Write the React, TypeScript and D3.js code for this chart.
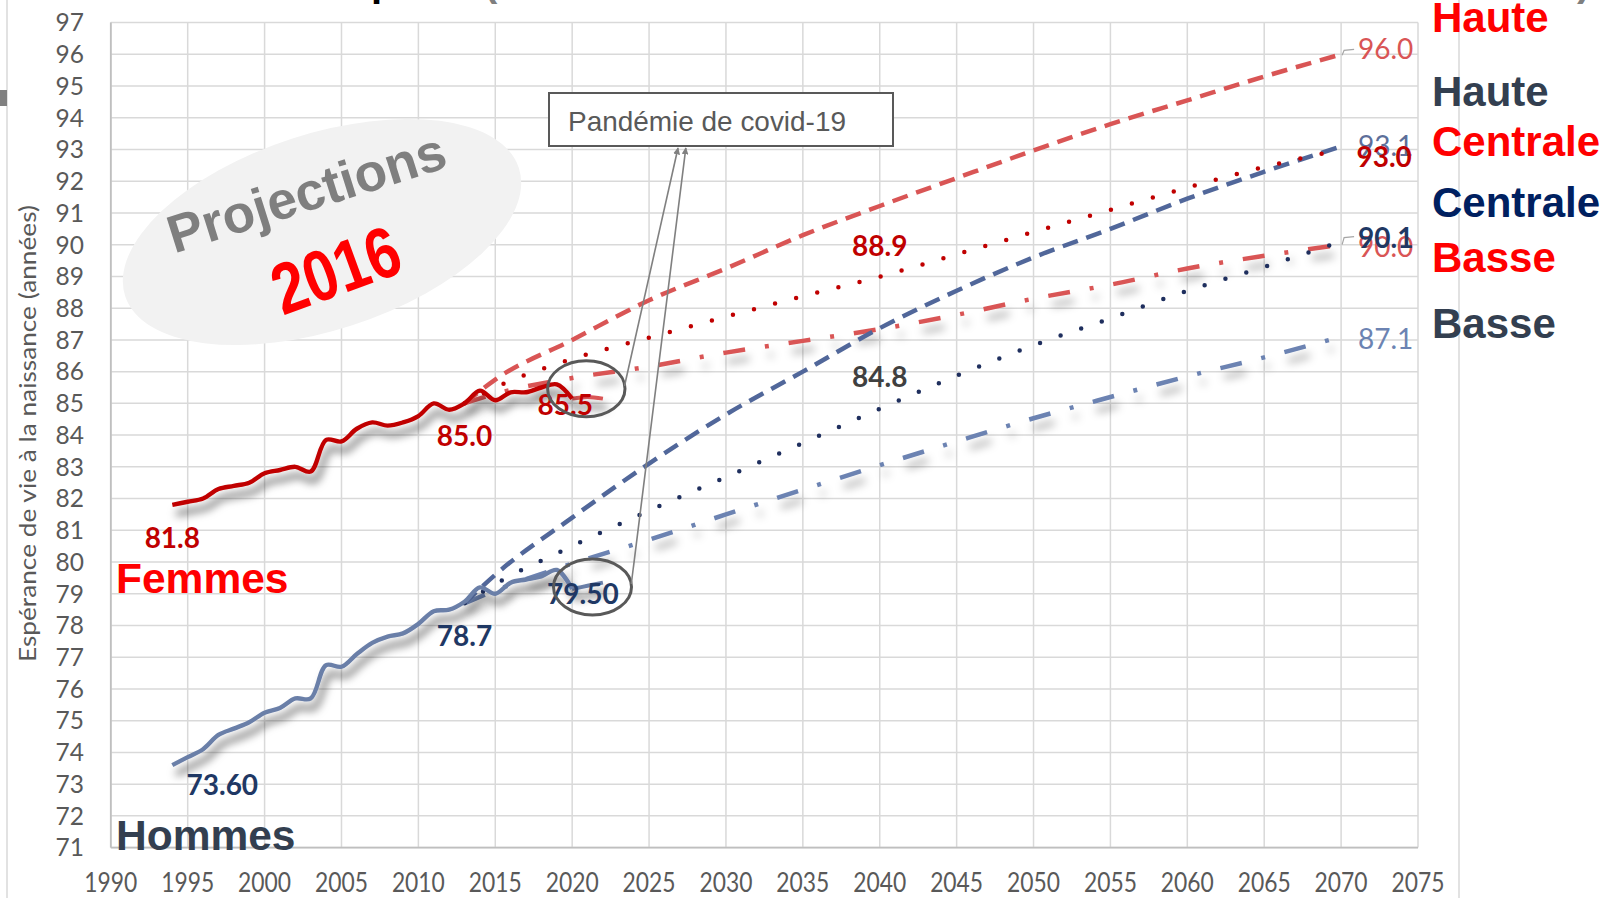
import React from 'react';
import * as d3 from 'd3';

// ---------- DATA ----------
const histYears = [1994, 1995, 1996, 1997, 1998, 1999, 2000, 2001, 2002, 2003, 2004, 2005, 2006, 2007, 2008, 2009, 2010, 2011, 2012, 2013, 2014, 2015, 2016, 2017, 2018, 2019, 2020];
const femmesHist = [81.8, 81.9, 82.0, 82.3, 82.4, 82.5, 82.8, 82.9, 83.0, 82.85, 83.85, 83.8, 84.2, 84.4, 84.3, 84.4, 84.6, 85.0, 84.8, 85.0, 85.4, 85.1, 85.35, 85.35, 85.5, 85.6, 85.15];
const hommesHist = [73.6, 73.85, 74.1, 74.55, 74.75, 74.95, 75.25, 75.4, 75.7, 75.7, 76.75, 76.7, 77.1, 77.45, 77.65, 77.75, 78.05, 78.45, 78.5, 78.75, 79.2, 79.0, 79.35, 79.45, 79.55, 79.75, 79.15];

const recentYears = [2020, 2021, 2022];
const femmesRecent = [85.15, 85.2, 85.15];
const hommesRecent = [79.15, 79.25, 79.35];

const projYears = [2013, 2015, 2020, 2025, 2030, 2035, 2040, 2045, 2050, 2055, 2060, 2065, 2070];
const femmesHaute = [85.0, 85.75, 87.0, 88.25, 89.25, 90.3, 91.22, 92.1, 92.97, 93.8, 94.55, 95.3, 96.0];
const femmesCentrale = [85.0, 85.5, 86.4, 87.07, 87.73, 88.38, 88.99, 89.7, 90.4, 91.1, 91.8, 92.45, 93.0];
const femmesBasse = [85.0, 85.3, 85.8, 86.16, 86.6, 86.97, 87.34, 87.79, 88.3, 88.74, 89.25, 89.65, 90.0];
const hommesHaute = [78.7, 79.6, 81.4, 83.1, 84.65, 86.0, 87.37, 88.55, 89.6, 90.5, 91.45, 92.3, 93.1];
const hommesCentrale = [78.7, 79.3, 80.5, 81.62, 82.68, 83.75, 84.83, 85.87, 86.83, 87.68, 88.55, 89.3, 90.1];
const hommesBasse = [78.7, 79.1, 79.95, 80.7, 81.5, 82.28, 83.05, 83.8, 84.53, 85.2, 85.85, 86.45, 87.1];

const xTickValues = [1990, 1995, 2000, 2005, 2010, 2015, 2020, 2025, 2030, 2035, 2040, 2045, 2050, 2055, 2060, 2065, 2070, 2075];
const yTickValues = [71, 72, 73, 74, 75, 76, 77, 78, 79, 80, 81, 82, 83, 84, 85, 86, 87, 88, 89, 90, 91, 92, 93, 94, 95, 96, 97];

const legendLabels = ['Haute', 'Haute', 'Centrale', 'Centrale', 'Basse', 'Basse'];
const legendColors = ['#ff0000', '#333f50', '#ff0000', '#002060', '#ff0000', '#333f50'];

// ---------- LAYOUT ----------
const W = 1609;
const H = 898;
const X = d3.scaleLinear().domain([1990, 2075]).range([110.8, 1418]);
const Y = d3.scaleLinear().domain([71, 97]).range([847.6, 22.6]);

const zip = (xs: number[], ys: number[]) => xs.map((x, i) => [x, ys[i]] as [number, number]);
const smooth = d3.line<[number, number]>().x(d => X(d[0])).y(d => Y(d[1])).curve(d3.curveCatmullRom.alpha(0.5));
const mono = d3.line<[number, number]>().x(d => X(d[0])).y(d => Y(d[1])).curve(d3.curveMonotoneX);

const NUM = 'Lato, "Open Sans", sans-serif';
const ARIAL = '"Liberation Sans", Arial, sans-serif';

type Lbl = { t: string; yr: number; v: number; dx: number; dy: number; c: string; w: number };
const dataLabels: Lbl[] = [
  { t: '81.8', yr: 1994, v: 81.8, dx: 0, dy: 33, c: '#c00000', w: 700 },
  { t: '85.0', yr: 2013, v: 85.0, dx: 0, dy: 33, c: '#c00000', w: 700 },
  { t: '85.5', yr: 2019.55, v: 85.5, dx: 0, dy: 17.5, c: '#c00000', w: 700 },
  { t: '73.60', yr: 1994, v: 73.6, dx: 50, dy: 20, c: '#1f3864', w: 700 },
  { t: '78.7', yr: 2013, v: 78.7, dx: 0, dy: 33, c: '#1f3864', w: 700 },
  { t: '79.50', yr: 2020.7, v: 79.5, dx: 0, dy: 16.5, c: '#1f3864', w: 700 },
  { t: '88.9', yr: 2040, v: 88.99, dx: 0, dy: -31, c: '#c00000', w: 700 },
  { t: '84.8', yr: 2040, v: 84.83, dx: 0, dy: -32, c: '#404040', w: 700 },
];
const endLabels: Lbl[] = [
  { t: '96.0', yr: 2071.1, v: 96.0, dx: 0, dy: -5, c: '#d95555', w: 400 },
  { t: '93.1', yr: 2071.1, v: 93.1, dx: 0, dy: 0, c: '#5d6f9a', w: 400 },
  { t: '93.0', yr: 2071.0, v: 93.0, dx: 0, dy: 7, c: '#c00000', w: 700 },
  { t: '90.0', yr: 2071.1, v: 90.0, dx: 0, dy: 2, c: '#d95555', w: 400 },
  { t: '90.1', yr: 2071.1, v: 90.1, dx: 0, dy: -3.5, c: '#1f3864', w: 700 },
  { t: '87.1', yr: 2071.1, v: 87.1, dx: 0, dy: 2.3, c: '#6c83b2', w: 400 },
];
const legendBaselines = [31.7, 106, 156, 217, 271.7, 338];

export default function App() {
  const plotL = X(1990), plotR = X(2075), plotT = Y(97), plotB = Y(71);
  return (
    <svg width={W} height={H} style={{ position: 'absolute', left: 0, top: 0, background: '#fff' }}>
      <defs>
        <filter id="sh" filterUnits="userSpaceOnUse" x={0} y={0} width={W} height={H}>
          <feDropShadow dx={4} dy={9} stdDeviation={4} floodColor="#000" floodOpacity={0.62} />
        </filter>
        <filter id="sh2" filterUnits="userSpaceOnUse" x={0} y={0} width={W} height={H}>
          <feDropShadow dx={4} dy={9} stdDeviation={4.5} floodColor="#000" floodOpacity={0.34} />
        </filter>
        <marker id="arr" viewBox="0 0 10 10" refX={9} refY={5} markerWidth={7} markerHeight={7} orient="auto" markerUnits="userSpaceOnUse">
          <path d="M0,0 L10,5 L0,10 z" fill="#808080" />
        </marker>
      </defs>
      <rect width={W} height={H} fill="#fff" />
      {/* outer frame bits */}
      <line x1={7} x2={7} y1={0} y2={H} stroke="#d9d9d9" strokeWidth={1.5} />
      <rect x={0} y={90} width={7} height={16} fill="#808080" />
      <line x1={1459} x2={1459} y1={0} y2={H} stroke="#d9d9d9" strokeWidth={1.5} />
      {/* clipped title fragments */}
      <text x={371} y={-4} fontFamily={ARIAL} fontWeight={700} fontSize={40} fill="#000">p</text>
      <text x={484} y={-4} fontFamily={ARIAL} fontWeight={700} fontSize={40} fill="#7f7f7f">(</text>
      <text x={1577} y={-4} fontFamily={ARIAL} fontWeight={700} fontSize={40} fill="#7f7f7f">)</text>

      {/* grid */}
      {yTickValues.map(v => (
        <line key={'gy' + v} x1={plotL} x2={plotR} y1={Y(v)} y2={Y(v)} stroke="#d9d9d9" strokeWidth={1.5} />
      ))}
      {xTickValues.map(v => (
        <line key={'gx' + v} x1={X(v)} x2={X(v)} y1={plotT} y2={plotB} stroke="#d9d9d9" strokeWidth={1.5} />
      ))}
      <line x1={plotL} x2={plotR} y1={plotB} y2={plotB} stroke="#bfbfbf" strokeWidth={1.8} />
      <line x1={plotL} x2={plotL} y1={plotT} y2={plotB} stroke="#bfbfbf" strokeWidth={1.8} />

      {/* tick labels */}
      {yTickValues.map(v => (
        <text key={'ty' + v} x={84} y={Y(v)} dy="0.36em" textAnchor="end" fontFamily={NUM} fontSize={24.5} fill="#595959">{v}</text>
      ))}
      {xTickValues.map(v => (
        <text key={'tx' + v} x={X(v) - 26.5} y={892} fontFamily={NUM} fontSize={26} fill="#595959" textLength={53} lengthAdjust="spacingAndGlyphs">{v}</text>
      ))}
      <text transform="translate(36,433.5) rotate(-90)" textAnchor="middle" fontFamily={NUM} fontSize={24} fill="#595959" textLength={457} lengthAdjust="spacingAndGlyphs">Espérance de vie à la naissance (années)</text>

      {/* Projections ellipse */}
      <ellipse cx={322} cy={232} rx={207} ry={98} transform="rotate(-18 322 232)" fill="#f2f2f2" />
      <text transform="translate(312,210) rotate(-17.5)" textAnchor="middle" fontFamily={ARIAL} fontWeight={700} fontSize={53} fill="#7f7f7f">Projections</text>
      <text transform="translate(335.5,269) rotate(-20) scale(0.82,1)" textAnchor="middle" dy="0.36em" fontFamily={ARIAL} fontWeight={700} fontSize={72} fill="#ff0000">2016</text>

      {/* projections */}
      <path d={mono(zip(projYears, femmesBasse))!} fill="none" stroke="#d95555" strokeWidth={4.5} strokeDasharray="22 20 4 20" filter="url(#sh2)" />
      <path d={mono(zip(projYears, hommesBasse))!} fill="none" stroke="#6c83b2" strokeWidth={4.5} strokeDasharray="22 20 4 20" filter="url(#sh2)" />
      <path d={mono(zip(projYears, femmesHaute))!} fill="none" stroke="#d95555" strokeWidth={4.5} strokeDasharray="16 9" />
      <path d={mono(zip(projYears, hommesHaute))!} fill="none" stroke="#51679a" strokeWidth={4.5} strokeDasharray="16 9" />
      <path d={mono(zip(projYears, femmesCentrale))!} fill="none" stroke="#c00000" strokeWidth={4.5} strokeLinecap="round" strokeDasharray="0 21.8" />
      <path d={mono(zip(projYears, hommesCentrale))!} fill="none" stroke="#1f2f5e" strokeWidth={4.5} strokeLinecap="round" strokeDasharray="0 21.8" />

      {/* history */}
      <path d={smooth(zip(recentYears, femmesRecent))!} fill="none" stroke="#d95555" strokeWidth={4} filter="url(#sh)" />
      <path d={smooth(zip(recentYears, hommesRecent))!} fill="none" stroke="#6a7fa8" strokeWidth={4} filter="url(#sh)" />
      <path d={smooth(zip(histYears, femmesHist))!} fill="none" stroke="#c00000" strokeWidth={4.4} strokeLinejoin="round" filter="url(#sh)" />
      <path d={smooth(zip(histYears, hommesHist))!} fill="none" stroke="#6a7fa8" strokeWidth={4.4} strokeLinejoin="round" filter="url(#sh)" />

      {/* data labels */}
      {dataLabels.map((l, i) => (
        <text key={'dl' + i} x={X(l.yr) + l.dx} y={Y(l.v) + l.dy} dy="0.36em" textAnchor="middle" fontFamily={NUM} fontWeight={l.w} fontSize={28} fill={l.c}>{l.t}</text>
      ))}
      {/* end leaders */}
      <path d={`M${X(2070) + 1},${Y(96) + 1} L${X(2070) + 3},${Y(96) - 4} L${X(2070) + 13},${Y(96) - 5}`} fill="none" stroke="#a6a6a6" strokeWidth={1.2} />
      <path d={`M${X(2070) + 1},${Y(90.1) + 3} L${X(2070) + 3},${Y(90.1) - 4} L${X(2070) + 13},${Y(90.1) - 5}`} fill="none" stroke="#a6a6a6" strokeWidth={1.2} />
      {endLabels.map((l, i) => (
        <text key={'el' + i} x={X(l.yr)} y={Y(l.v) + l.dy} dy="0.36em" fontFamily={NUM} fontWeight={l.w} fontSize={28} fill={l.c}>{l.t}</text>
      ))}

      {/* covid annotation */}
      <ellipse cx={586.3} cy={388.7} rx={38.7} ry={28} fill="none" stroke="#595959" strokeWidth={3} />
      <ellipse cx={592.5} cy={587} rx={39} ry={28} fill="none" stroke="#595959" strokeWidth={3} />
      <line x1={624.5} y1={386} x2={678} y2={148} stroke="#808080" strokeWidth={1.6} markerEnd="url(#arr)" />
      <line x1={631.3} y1={584} x2={685.8} y2={148} stroke="#808080" strokeWidth={1.6} markerEnd="url(#arr)" />
      <rect x={549} y={93} width={344} height={53} fill="#fff" stroke="#595959" strokeWidth={2} />
      <text x={568} y={130.5} fontFamily={ARIAL} fontSize={28} fill="#595959" textLength={278} lengthAdjust="spacingAndGlyphs">Pandémie de covid-19</text>

      {/* Femmes / Hommes */}
      <text x={116} y={593} fontFamily={ARIAL} fontWeight={700} fontSize={42.5} fill="#ff0000">Femmes</text>
      <text x={116} y={850} fontFamily={ARIAL} fontWeight={700} fontSize={42.5} fill="#333f50">Hommes</text>

      {/* right legend */}
      {legendLabels.map((t, i) => (
        <text key={'lg' + i} x={1432} y={legendBaselines[i]} fontFamily={ARIAL} fontWeight={700} fontSize={42} fill={legendColors[i]}>{t}</text>
      ))}
    </svg>
  );
}
